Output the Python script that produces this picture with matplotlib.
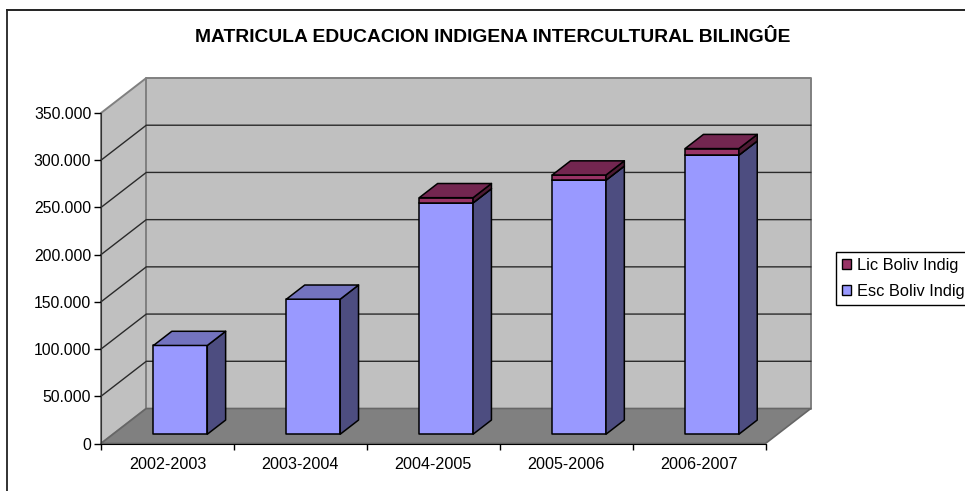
import matplotlib; matplotlib.use("Agg")
import matplotlib.pyplot as plt
from matplotlib.lines import Line2D
from matplotlib.patches import Polygon, Rectangle
from matplotlib.ticker import FuncFormatter

periods = ["2002-2003", "2003-2004", "2004-2005", "2005-2006", "2006-2007"]
esc_boliv = [94000, 143000, 245000, 269000, 295500]
lic_boliv = [0, 0, 5500, 5500, 7000]
y_ticks = [0, 50000, 100000, 150000, 200000, 250000, 300000, 350000]

W, H = 965, 491
plt.rcParams["font.family"] = ["Liberation Sans", "DejaVu Sans"]
fig = plt.figure(figsize=(W/100, H/100), dpi=100)
# front plane of the fake 3d box, in pixels
L, R, B, T = 101, 765.5, 443.5, 113
ax = fig.add_axes([L/W, 1-B/H, (R-L)/W, (B-T)/H])
ax.set_xlim(0, 5); ax.set_ylim(0, 350000)
ax.patch.set_visible(False)

# depth offset of the box, in data units
DX = 45.3/((R-L)/5)
DY = 35/(B-T)*350000
def pr(x, y, d):
    return (x+d*DX, y+d*DY)
def face(pts, c, ec="black", lw=1.1, z=2):
    ax.add_patch(Polygon([pr(*p) for p in pts], closed=True, fc=c, ec=ec, lw=lw, zorder=z,
                clip_on=False, joinstyle="round"))

# walls and floor
top = y_ticks[-1]
face([(0, 0, 0), (0, top, 0), (0, top, 1), (0, 0, 1)], "#C0C0C0", "#808080", 1.4, 1)
face([(0, 0, 1), (0, top, 1), (5, top, 1), (5, 0, 1)], "#C0C0C0", "#808080", 1.4, 1)
face([(0, 0, 0), (5, 0, 0), (5, 0, 1), (0, 0, 1)], "#808080", "#666666", 1.2, 1)
for v in y_ticks[1:-1]:
    pts = [pr(0, v, 0), pr(0, v, 1), pr(5, v, 1)]
    ax.plot([p[0] for p in pts], [p[1] for p in pts], color="#2a2a2a", lw=1.0, zorder=1.5, clip_on=False)

# bars
bw = 53.8/((R-L)/5)
d0, d1 = 0.265, 0.67
def bar3d(i, y0, y1, front, top_c, side):
    x0, x1 = i+0.5-bw/2+0.007, i+0.5+bw/2+0.007
    face([(x0, y0, d0), (x1, y0, d0), (x1, y1, d0), (x0, y1, d0)], front)
    face([(x1, y0, d0), (x1, y0, d1), (x1, y1, d1), (x1, y1, d0)], side)
    face([(x0, y1, d0), (x1, y1, d0), (x1, y1, d1), (x0, y1, d1)], top_c)
for i in range(len(periods)):
    bar3d(i, 0, esc_boliv[i], "#9999FF", "#7373BF", "#4D4D80")
    if lic_boliv[i] > 0:
        bar3d(i, esc_boliv[i], esc_boliv[i]+lic_boliv[i], "#993366", "#732650", "#4D1A33")

# axes
for s in ("top", "right"):
    ax.spines[s].set_visible(False)
ax.spines["left"].set_color("#333333"); ax.spines["bottom"].set_color("black")
ax.spines["left"].set_zorder(3); ax.spines["bottom"].set_zorder(3)
ax.set_yticks(y_ticks)
ax.yaxis.set_major_formatter(FuncFormatter(lambda v, p: "0" if v == 0 else f"{int(v):,}".replace(",", ".")))
ax.set_xticks(range(6)); ax.set_xticklabels([])
ax.set_xticks([i+0.5 for i in range(5)], periods, minor=True)
ax.tick_params(axis="y", length=5, width=1, pad=2, labelsize=11.3, labelcolor="black")
ax.tick_params(axis="x", which="major", length=4.5, width=1)
ax.tick_params(axis="x", which="minor", length=0, pad=9.5, labelsize=11.6)

fig.text(492.5/W, 1-37/H, "MATRICULA EDUCACION INDIGENA INTERCULTURAL BILINGÛE",
         ha="center", va="center", fontsize=13.9, fontweight="bold")

# outer chart border, only top and left show up in the crop
fig.add_artist(Line2D([7/W, 1], [1-9.5/H, 1-9.5/H], color="#111111", lw=1.3))
fig.add_artist(Line2D([7/W, 7/W], [0, 1-9.5/H], color="#222222", lw=1.3))

handles = [Rectangle((0, 0), 1, 1, fc="#993366", ec="black"), Rectangle((0, 0), 1, 1, fc="#9999FF", ec="black")]
fig.legend(handles, ["Lic Boliv Indig", "Esc Boliv Indig"], loc="lower left",
           bbox_to_anchor=(835.7/W, 1-305/H), fontsize=11.8, fancybox=False, edgecolor="black",
           framealpha=1, borderaxespad=0, handlelength=0.585, handleheight=0.585, handletextpad=0.37,
           labelspacing=0.68, borderpad=0.36)

fig.savefig("out.png", dpi=100)
